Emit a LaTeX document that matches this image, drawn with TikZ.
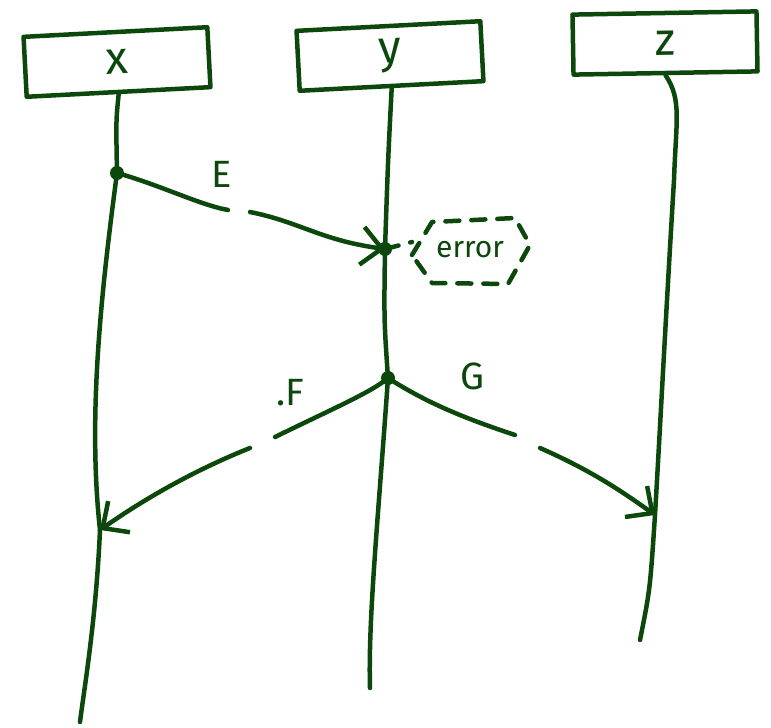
\documentclass[tikz,border=0pt]{standalone}
\usepackage{fontspec}
\setmainfont{Fira Sans}
\usetikzlibrary{arrows.meta}
\definecolor{ink}{RGB}{12,72,12}
\tikzset{
  ln/.style={draw=ink, line width=4.5pt, line cap=round, line join=round},
  actor/.style={ln, rectangle, minimum width=184pt, minimum height=60pt, inner sep=0pt, font=\fontsize{46}{46}\selectfont, text=ink},
  lbl/.style={font=\fontsize{38}{38}\selectfont, text=ink},
  msg/.style={ln, -{Straight Barb[length=20pt, width=38pt, line width=4.5pt]}},
  dotp/.style={circle, fill=ink, inner sep=0pt, minimum size=14pt},
  dsh/.style={ln, dash pattern=on 14pt off 12pt},
}
\begin{document}
\begin{tikzpicture}[x=1pt,y=-1pt]
\useasboundingbox (0,0) rectangle (771,728);
% actors
\node[actor, rotate=3] (X) at (117,62) {x};
\node[actor, rotate=3] (Y) at (390,56) {y};
\node[actor, rotate=1] (Z) at (665,43) {z};
% points on lifelines
\node[dotp] (xE) at (117,173) {};
\node[dotp] (yE) at (385,249) {};
\node[dotp] (yFG) at (388,378) {};
\coordinate (xF) at (100,530);
\coordinate (zG) at (655,515);
\coordinate (xEnd) at (80,722);
\coordinate (yEnd) at (370,688);
\coordinate (zEnd) at (640,640);
% lifelines
\draw[ln] (X.south) .. controls (116,120) .. (xE.center)
  .. controls (100,300) and (88,420) .. (xF) .. controls (96,620) and (84,690) .. (xEnd);
\draw[ln] (Y.south) .. controls (388,160) .. (yE.center) .. controls (384,320) .. (yFG.center)
  .. controls (378,520) and (368,620) .. (yEnd);
\draw[ln] (Z.south) .. controls (682,100) and (676,120) .. (674,180)
  .. controls (665,330) and (660,430) .. (zG) .. controls (650,590) .. (zEnd);
% message E
\coordinate (e1) at (228,210);
\coordinate (e2) at (250,212);
\draw[ln] (xE.center) .. controls (160,185) and (200,205) .. (e1);
\draw[msg] (e2) .. controls (300,222) and (320,240) .. (yE.center);
\node[lbl] (lE) at (222,174) {E};
% error note
\node[font=\fontsize{30}{30}\selectfont, text=ink] (err) at (470,250) {error};
\draw[dsh] (412,255) -- (432,222) -- (515,218) -- (530,245) -- (508,284) -- (432,283) -- cycle;
\draw[dsh] (yE.center) -- (412,242);
% message F
\coordinate (f1) at (275,437);
\coordinate (f2) at (250,448);
\draw[ln] (yFG.center) .. controls (372,392) and (330,410) .. (f1);
\draw[msg] (f2) .. controls (200,468) and (150,495) .. (xF);
\node[lbl] (lF) at (290,393) {.F};
% message G
\coordinate (g1) at (515,435);
\coordinate (g2) at (540,448);
\draw[ln] (yFG.center) .. controls (430,405) and (470,420) .. (g1);
\draw[msg] (g2) .. controls (590,470) and (620,490) .. (zG);
\node[lbl] (lG) at (472,376) {G};
\end{tikzpicture}
\end{document}
